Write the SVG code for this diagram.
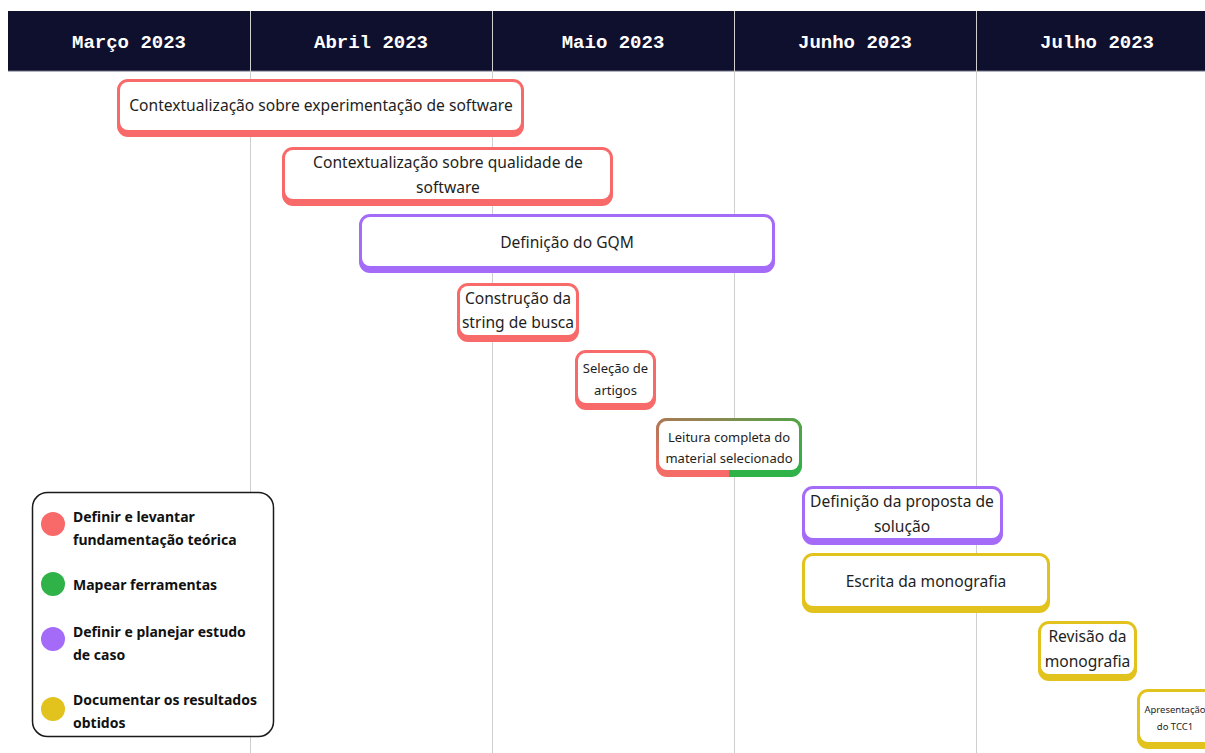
<svg xmlns="http://www.w3.org/2000/svg" width="1205" height="753" viewBox="0 0 1205 753">
  <style>
    .month { font-family: "Liberation Mono", "DejaVu Sans Mono", monospace; font-weight: bold; font-size: 19px; fill: #ffffff; text-anchor: middle; }
    .grid { stroke: #cfcfcf; stroke-width: 1; }
    .inner { fill: #ffffff; }
    .label { font-family: "Noto Sans", "Open Sans", sans-serif; font-size: 15.6px; fill: #1e1e1e; text-anchor: middle; }
    .small { font-size: 13px; }
    .tiny { font-size: 9.5px; }
    .red { fill: #f86a6a; }
    .purple { fill: #a46af8; }
    .yellow { fill: #e2c21c; }
    .green { fill: #2fb248; }
    .legend-text { font-family: "Noto Sans", "Open Sans", sans-serif; font-weight: bold; font-size: 14px; fill: #111111; }
  </style>
  <defs>
    <linearGradient id="splitFill" x1="0" y1="0" x2="1" y2="0">
      <stop offset="0" stop-color="#f26d66"/>
      <stop offset="0.5" stop-color="#f86a6a"/>
      <stop offset="0.5" stop-color="#2fb248"/>
      <stop offset="1" stop-color="#2fb248"/>
    </linearGradient>
    <linearGradient id="topTint" x1="0" y1="0" x2="1" y2="0">
      <stop offset="0" stop-color="#a67a55"/>
      <stop offset="1" stop-color="#58a048"/>
    </linearGradient>
    <linearGradient id="fadeDown" x1="0" y1="0" x2="0" y2="1">
      <stop offset="0" stop-color="#ffffff" stop-opacity="1"/>
      <stop offset="0.85" stop-color="#ffffff" stop-opacity="0"/>
    </linearGradient>
    <mask id="topMask">
      <rect x="656" y="418" width="146" height="59" fill="url(#fadeDown)"/>
    </mask>
  </defs>

  <rect width="1205" height="753" fill="#ffffff"/>

  <!-- month header -->
  <rect x="8" y="11" width="1197" height="60" fill="#0f0f2e"/>
  <line x1="8" y1="71" x2="1205" y2="71" stroke="#6b6b80" stroke-width="1"/>
  <g id="grid">
    <line class="grid" x1="250.5" y1="11" x2="250.5" y2="753"/>
    <line class="grid" x1="492.5" y1="11" x2="492.5" y2="753"/>
    <line class="grid" x1="734.5" y1="11" x2="734.5" y2="753"/>
    <line class="grid" x1="976.5" y1="11" x2="976.5" y2="753"/>
  </g>
  <g id="months">
    <text class="month" x="129" y="48">Março 2023</text>
    <text class="month" x="371" y="48">Abril 2023</text>
    <text class="month" x="613" y="48">Maio 2023</text>
    <text class="month" x="855" y="48">Junho 2023</text>
    <text class="month" x="1097" y="48">Julho 2023</text>
  </g>

  <!-- no connectors between tasks -->
  <g id="connectors"></g>

  <!-- task bars: coloured shell with a thicker lower edge, white face -->
  <g id="task-experimentacao">
    <rect class="red" x="117" y="79" width="407" height="58" rx="11"/>
    <rect class="inner" x="120" y="82" width="401" height="48" rx="8"/>
    <text class="label" x="321" y="111">Contextualização sobre experimentação de software</text>
  </g>

  <g id="task-qualidade">
    <rect class="red" x="282" y="147" width="331" height="59" rx="11"/>
    <rect class="inner" x="285" y="150" width="325" height="49" rx="8"/>
    <text class="label" x="448" y="168">Contextualização sobre qualidade de</text>
    <text class="label" x="448" y="193">software</text>
  </g>

  <g id="task-gqm">
    <rect class="purple" x="359" y="214" width="416" height="59" rx="11"/>
    <rect class="inner" x="362" y="217" width="410" height="49" rx="8"/>
    <text class="label" x="567" y="248">Definição do GQM</text>
  </g>

  <g id="task-string">
    <rect class="red" x="457" y="283" width="122" height="59" rx="11"/>
    <rect class="inner" x="460" y="286" width="116" height="49" rx="8"/>
    <text class="label" x="518" y="304">Construção da</text>
    <text class="label" x="518" y="328">string de busca</text>
  </g>

  <g id="task-selecao">
    <rect class="red" x="575" y="350" width="81" height="60" rx="11"/>
    <rect class="inner" x="578" y="353" width="75" height="50" rx="8"/>
    <text class="label small" x="615.5" y="373">Seleção de</text>
    <text class="label small" x="615.5" y="395">artigos</text>
  </g>

  <g id="task-leitura">
    <rect x="656" y="418" width="146" height="59" rx="11" fill="url(#splitFill)"/>
    <rect x="656" y="418" width="146" height="59" rx="11" fill="url(#topTint)" mask="url(#topMask)"/>
    <rect class="inner" x="659" y="421" width="140" height="49" rx="8"/>
    <text class="label small" x="729" y="442">Leitura completa do</text>
    <text class="label small" x="729" y="463">material selecionado</text>
  </g>

  <g id="task-proposta">
    <rect class="purple" x="802" y="486" width="201" height="59" rx="11"/>
    <rect class="inner" x="805" y="489" width="195" height="49" rx="8"/>
    <text class="label" x="902" y="507">Definição da proposta de</text>
    <text class="label" x="902" y="532">solução</text>
  </g>

  <g id="task-escrita">
    <rect class="yellow" x="802" y="553" width="248" height="60" rx="11"/>
    <rect class="inner" x="805" y="556" width="242" height="50" rx="8"/>
    <text class="label" x="926" y="587">Escrita da monografia</text>
  </g>

  <g id="task-revisao">
    <rect class="yellow" x="1038" y="621" width="99" height="60" rx="11"/>
    <rect class="inner" x="1041" y="624" width="93" height="50" rx="8"/>
    <text class="label" x="1087.5" y="642">Revisão da</text>
    <text class="label" x="1087.5" y="667">monografia</text>
  </g>

  <g id="task-apresentacao">
    <rect class="yellow" x="1137" y="689" width="80" height="60" rx="11"/>
    <rect class="inner" x="1140" y="692" width="74" height="50" rx="8"/>
    <text class="label tiny" x="1175" y="713">Apresentação</text>
    <text class="label tiny" x="1175" y="730">do TCC1</text>
  </g>

  <!-- legend -->
  <g id="legend">
    <rect x="32.5" y="492.5" width="241" height="244" rx="15" fill="#ffffff" stroke="#1a1a1a" stroke-width="1.5"/>
    <circle class="red" cx="53" cy="524" r="12"/>
    <text class="legend-text" x="73" y="522">Definir e levantar</text>
    <text class="legend-text" x="73" y="545">fundamentação teórica</text>
    <circle class="green" cx="53" cy="584" r="12"/>
    <text class="legend-text" x="73" y="590">Mapear ferramentas</text>
    <circle class="purple" cx="53" cy="639" r="12"/>
    <text class="legend-text" x="73" y="637">Definir e planejar estudo</text>
    <text class="legend-text" x="73" y="660">de caso</text>
    <circle class="yellow" cx="53" cy="709" r="12"/>
    <text class="legend-text" x="73" y="705">Documentar os resultados</text>
    <text class="legend-text" x="73" y="728">obtidos</text>
  </g>
</svg>
